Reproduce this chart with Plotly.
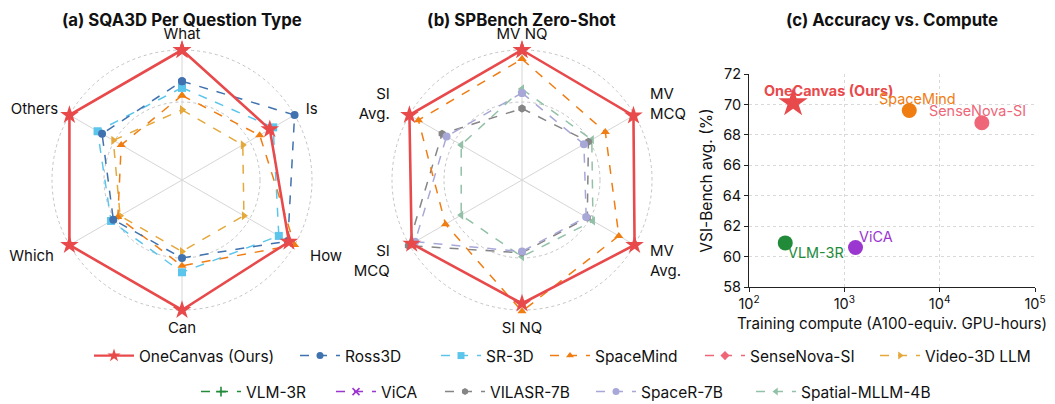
import math
import plotly.graph_objects as go

# ---------------- data ----------------
sqa_axes = ["What", "Is", "How", "Can", "Which", "Others"]
sqa_onecanvas = [1.00, 0.78, 0.95, 1.00, 1.00, 1.00]
sqa_ross3d = [0.76, 1.00, 0.94, 0.60, 0.61, 0.71]
sqa_sr3d = [0.71, 0.81, 0.86, 0.71, 0.63, 0.75]
sqa_spacemind = [0.65, 0.69, 1.00, 0.66, 0.57, 0.54]
sqa_video3d = [0.54, 0.54, 0.55, 0.55, 0.55, 0.61]

sp_axes = ["MV NQ", "MV MCQ", "MV Avg.", "SI NQ", "SI MCQ", "SI Avg."]
sp_onecanvas = [1.00, 0.99, 1.00, 0.95, 0.98, 1.00]
sp_spacemind = [0.93, 0.74, 0.86, 1.01, 0.68, 0.92]
sp_vilasr = [0.55, 0.59, 0.58, 0.56, 1.01, 0.71]
sp_spacer = [0.67, 0.55, 0.57, 0.55, 0.95, 0.67]
sp_spatial = [0.70, 0.62, 0.63, 0.59, 0.54, 0.54]

sc_models = ["OneCanvas (Ours)", "SpaceMind", "SenseNova-SI", "VLM-3R", "ViCA"]
sc_compute = [290, 4800, 27700, 240, 1310]
sc_vsi = [70.1, 69.6, 68.8, 60.9, 60.6]

x_tickvals = [100, 1000, 10000, 100000]
x_ticktext = ["10<sup>2</sup>", "10<sup>3</sup>", "10<sup>4</sup>", "10<sup>5</sup>"]
y_tickvals = [58, 60, 62, 64, 66, 68, 70, 72]

legend_row1 = ["OneCanvas (Ours)", "Ross3D", "SR-3D", "SpaceMind", "SenseNova-SI", "Video-3D LLM"]
legend_row2 = ["VLM-3R", "ViCA", "VILASR-7B", "SpaceR-7B", "Spatial-MLLM-4B"]

# ---------------- styles ----------------
C = {
    "OneCanvas (Ours)": "#E84A4C",
    "Ross3D": "#3F72AF",
    "SR-3D": "#5CC5EC",
    "SpaceMind": "#F07D12",
    "SenseNova-SI": "#EE6677",
    "Video-3D LLM": "#E5A83A",
    "VLM-3R": "#228B3A",
    "ViCA": "#9B36D0",
    "VILASR-7B": "#858585",
    "SpaceR-7B": "#A8A8D8",
    "Spatial-MLLM-4B": "#92C1A7",
}
SYM = {
    "OneCanvas (Ours)": "star",
    "Ross3D": "circle",
    "SR-3D": "square",
    "SpaceMind": "triangle-up",
    "SenseNova-SI": "diamond",
    "Video-3D LLM": "triangle-right",
    "VLM-3R": "cross-thin",
    "ViCA": "x-thin",
    "VILASR-7B": "hexagon",
    "SpaceR-7B": "circle",
    "Spatial-MLLM-4B": "triangle-left",
}
FONT = "Inter, 'Noto Sans', sans-serif"
N1 = "\u00a0"
N2 = "\u00a0\u00a0"
N3 = "\u00a0\u00a0\u00a0"

# angular tick text (wrapped / padded away from the circle)
sqa_ticktext = ["What", N1 + "Is", N2 + "How", "Can", "Which" + N2, "Others" + N1]
sp_ticktext = ["MV NQ", N2 + "MV<br>" + N2 + "MCQ", N2 + "MV<br>" + N2 + "Avg.",
               "SI NQ", "SI" + N3 + "<br>MCQ" + N3, "SI" + N3 + "<br>Avg." + N3]

# The page body has an 8px margin, so the figure is drawn at (8, 8) in the window.
OFF = 8
W, H = 1055 - OFF, 404 - OFF


def fx(xs):
    return (xs - OFF) / W


def fy(ys):
    return 1 - (ys - OFF) / H


fig = go.Figure()


def closed(v):
    return list(v) + [v[0]]


def radar(name, vals, axes, sub):
    ours = name == "OneCanvas (Ours)"
    fig.add_trace(go.Scatterpolar(
        r=closed(vals), theta=closed(axes), subplot=sub, cliponaxis=False,
        mode="lines+markers", name=name, showlegend=False,
        line=dict(color=C[name], width=2.6 if ours else 1.5,
                  dash="solid" if ours else "dash"),
        marker=dict(symbol=SYM[name], size=14 if ours else 8, color=C[name],
                    line=dict(width=0)),
    ))


radar("Video-3D LLM", sqa_video3d, sqa_axes, "polar")
radar("SpaceMind", sqa_spacemind, sqa_axes, "polar")
radar("SR-3D", sqa_sr3d, sqa_axes, "polar")
radar("Ross3D", sqa_ross3d, sqa_axes, "polar")
radar("OneCanvas (Ours)", sqa_onecanvas, sqa_axes, "polar")

radar("Spatial-MLLM-4B", sp_spatial, sp_axes, "polar2")
radar("VILASR-7B", sp_vilasr, sp_axes, "polar2")
radar("SpaceR-7B", sp_spacer, sp_axes, "polar2")
radar("SpaceMind", sp_spacemind, sp_axes, "polar2")
radar("OneCanvas (Ours)", sp_onecanvas, sp_axes, "polar2")

# scatter (c)
for m, xc, yv in zip(sc_models, sc_compute, sc_vsi):
    ours = m == "OneCanvas (Ours)"
    fig.add_trace(go.Scatter(
        x=[xc], y=[yv], mode="markers", showlegend=False,
        marker=dict(symbol="star" if ours else "circle", size=22 if ours else 15,
                    color=C[m], line=dict(width=0)),
        xaxis="x", yaxis="y",
    ))

label_off = {
    "OneCanvas (Ours)": (35, 12),
    "SpaceMind": (8, 12),
    "SenseNova-SI": (-4, 12),
    "ViCA": (20, 11),
    "VLM-3R": (31, -10),
}
annotations = []
for m, xc, yv in zip(sc_models, sc_compute, sc_vsi):
    dx, dy = label_off[m]
    txt = "<b>%s</b>" % m if m == "OneCanvas (Ours)" else m
    annotations.append(dict(
        x=math.log10(xc), y=yv, xref="x", yref="y", text=txt, showarrow=False,
        xshift=dx, yshift=dy, font=dict(color=C[m], size=14.4, family=FONT),
    ))

# legend entries: one legend per entry, positioned like the reference rows
leg_x = {
    "OneCanvas (Ours)": 91, "Ross3D": 297, "SR-3D": 438, "SpaceMind": 547,
    "SenseNova-SI": 702, "Video-3D LLM": 877,
    "VLM-3R": 198, "ViCA": 333, "VILASR-7B": 442, "SpaceR-7B": 593,
    "Spatial-MLLM-4B": 753,
}
legends = {}
k = 0
for row, ycen in ((legend_row1, 356), (legend_row2, 392)):
    for m in row:
        k += 1
        lname = "legend" if k == 1 else "legend%d" % k
        ours = m == "OneCanvas (Ours)"
        thin = SYM[m] in ("cross-thin", "x-thin")
        fig.add_trace(go.Scatter(
            x=[None], y=[None], mode="lines+markers", name=m, legend=lname,
            line=dict(color=C[m], width=2.4 if ours else 1.5,
                      dash="solid" if ours else "dash"),
            marker=dict(symbol=SYM[m], size=10 if ours else 7, color=C[m],
                        line=dict(width=1.6 if thin else 0, color=C[m])),
            xaxis="x", yaxis="y",
        ))
        legends[lname] = dict(
            orientation="h", x=fx(leg_x[m] - 2), xanchor="left",
            y=fy(ycen), yanchor="middle", font=dict(size=15.5, family=FONT),
            itemwidth=40, bgcolor="rgba(0,0,0,0)", borderwidth=0,
        )

R_MAX = 1.012
R_PX = 130 * R_MAX
CY = 180


def polar_layout(cx, axes, ticktext):
    return dict(
        domain=dict(x=[fx(cx - R_PX), fx(cx + R_PX)],
                    y=[fy(CY + R_PX), fy(CY - R_PX)]),
        bgcolor="white",
        radialaxis=dict(range=[0, R_MAX], tickvals=[0.6, 1.0], showticklabels=False,
                        ticks="", showline=False,
                        gridcolor="#c4c4c4", griddash="dot", gridwidth=1),
        angularaxis=dict(rotation=90, direction="clockwise", categoryorder="array",
                         categoryarray=axes, tickmode="array", tickvals=axes,
                         ticktext=ticktext, showline=False,
                         ticks="outside", ticklen=3, tickcolor="rgba(0,0,0,0)",
                         gridcolor="#d6d6d6", gridwidth=1,
                         tickfont=dict(size=15, family=FONT, color="#111")),
    )


title_font = dict(size=16.8, family=FONT, color="#111")
for tx, cx in (("(a) SQA3D Per Question Type", 182),
               ("(b) SPBench Zero-Shot", 521),
               ("(c) Accuracy vs. Compute", 892)):
    annotations.append(dict(x=fx(cx), y=1.0, xref="paper", yref="paper",
                            text="<b>%s</b>" % tx, showarrow=False,
                            font=title_font, xanchor="center", yanchor="top"))

fig.update_layout(
    width=W, height=H, margin=dict(l=0, r=0, t=0, b=0, pad=0, autoexpand=False),
    paper_bgcolor="white", plot_bgcolor="white",
    font=dict(family=FONT, color="#111"),
    polar=polar_layout(182, sqa_axes, sqa_ticktext),
    polar2=polar_layout(522, sp_axes, sp_ticktext),
    xaxis=dict(type="log", range=[2, 5], domain=[fx(749), fx(1035)],
               tickvals=x_tickvals, ticktext=x_ticktext, showline=True,
               linecolor="#222", linewidth=1, ticks="outside", ticklen=4,
               tickcolor="#222", showgrid=True, gridcolor="#d9d9d9", griddash="dot",
               zeroline=False, tickfont=dict(size=14.5, family=FONT),
               title=dict(text="Training compute (A100-equiv. GPU-hours)",
                          font=dict(size=15.2, family=FONT), standoff=6)),
    yaxis=dict(range=[58, 72], domain=[fy(287), fy(74)], tickvals=y_tickvals,
               showline=True, linecolor="#222", linewidth=1, ticks="outside",
               ticklen=4, tickcolor="#222", showgrid=True, gridcolor="#d9d9d9",
               griddash="dot", zeroline=False, tickfont=dict(size=14.5, family=FONT),
               title=dict(text="VSI-Bench avg. (%)", font=dict(size=15.5, family=FONT),
                          standoff=6)),
    annotations=annotations,
    **legends,
)

fig.write_html("out.html")
